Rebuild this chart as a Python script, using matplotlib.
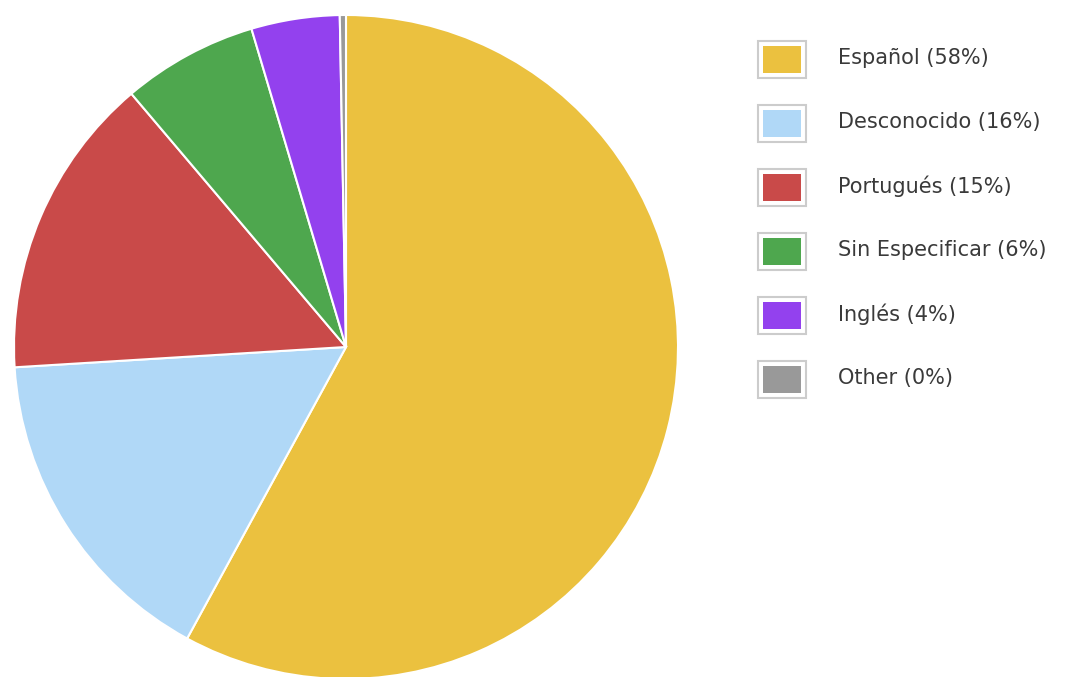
import matplotlib
matplotlib.use("Agg")
import matplotlib.pyplot as plt
from matplotlib.patches import Rectangle

labels = ["Español", "Desconocido", "Portugués", "Sin Especificar", "Inglés", "Other"]
values = [58.0, 16.1, 14.8, 6.6, 4.3, 0.3]
pct_labels = ["58%", "16%", "15%", "6%", "4%", "0%"]
colors = ["#EBC13F", "#B0D8F7", "#C94A49", "#4EA74E", "#9341EE", "#999999"]

W, H = 1077, 677
fig = plt.figure(figsize=(W / 100, H / 100), dpi=100)
fig.patch.set_facecolor("white")

cx, cy, r = 346, 347, 332
ax = fig.add_axes([(cx - r) / W, (H - cy - r) / H, 2 * r / W, 2 * r / H])
ax.pie(values, colors=colors, startangle=90, counterclock=False,
       wedgeprops=dict(edgecolor="white", linewidth=1.5))
ax.set_aspect("equal")
ax.set_xlim(-1, 1)
ax.set_ylim(-1, 1)
ax.axis("off")

def rect_px(x0, y0, x1, y1, **kw):
    fig.patches.append(Rectangle((x0 / W, (H - y1) / H), (x1 - x0) / W, (y1 - y0) / H,
                                 transform=fig.transFigure, figure=fig, **kw))

for i, (lab, p, c) in enumerate(zip(labels, pct_labels, colors)):
    dy = 64 * i
    rect_px(758, 41 + dy, 806, 78 + dy, facecolor="white", edgecolor="#cccccc", linewidth=1.5)
    rect_px(763, 46 + dy, 801, 73 + dy, facecolor=c, edgecolor="none")
    fig.text(838 / W, (H - (58 + dy)) / H, f"{lab} ({p})", fontsize=15,
             color="#3a3a3a", va="center", ha="left", family="DejaVu Sans")

fig.savefig("out.png", dpi=100, facecolor="white")
